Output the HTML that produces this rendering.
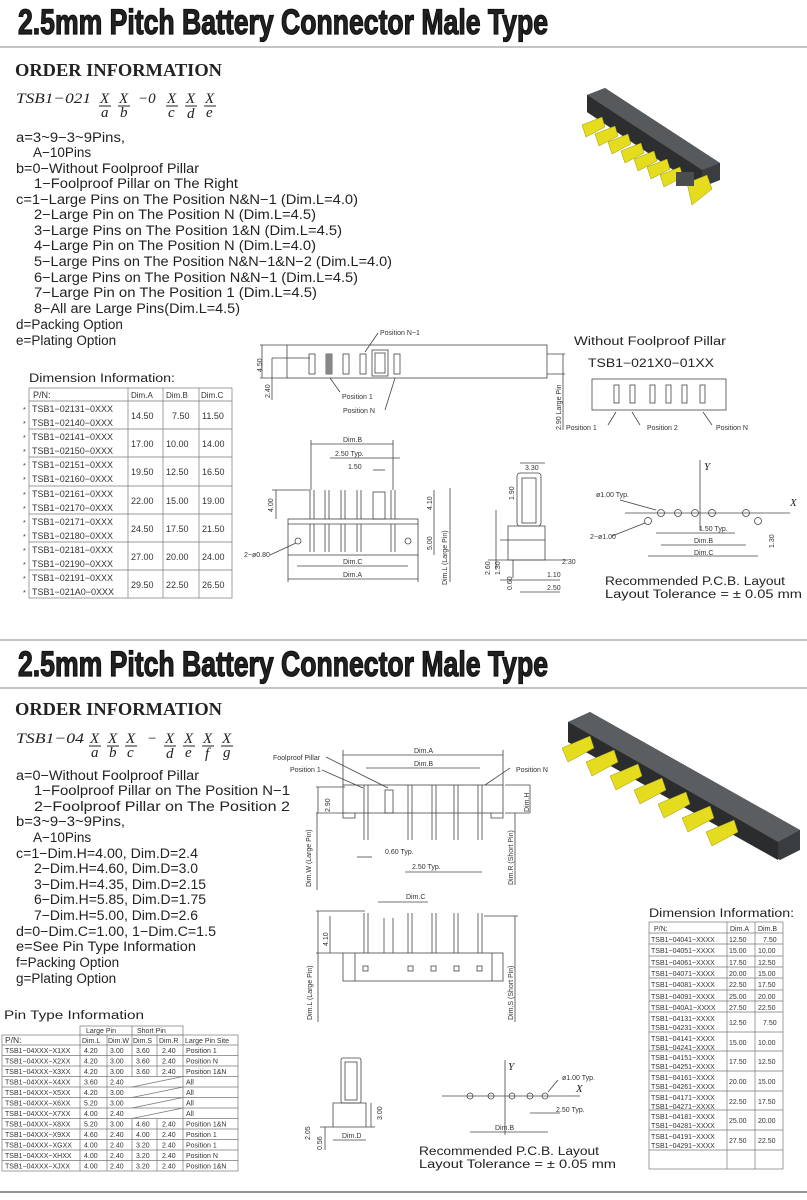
<!DOCTYPE html>
<html><head><meta charset="utf-8"><style>
html,body{margin:0;padding:0;background:#fff}
svg{display:block}
.t{font-family:"Liberation Sans",sans-serif;fill:#222}
.s{font-family:"Liberation Sans",sans-serif;fill:#333;font-size:7px}
.m{font-family:"Liberation Sans",sans-serif;fill:#222;font-size:13.5px}
.tb{font-family:"Liberation Sans",sans-serif;fill:#333;font-size:9px}
.ln{stroke:#444;stroke-width:.8;fill:none}
.tl{stroke:#777;stroke-width:.7;fill:none}
</style></head><body>
<svg width="807" height="1200" viewBox="0 0 807 1200" xmlns="http://www.w3.org/2000/svg">
<!-- Titles -->
<text x="18" y="34" class="t" font-size="35" font-weight="bold" textLength="530" lengthAdjust="spacingAndGlyphs" fill="#111" stroke="#111" stroke-width="1.3">2.5mm Pitch Battery Connector Male Type</text>
<line x1="0" y1="47" x2="807" y2="47" stroke="#888" stroke-width="1"/>
<line x1="0" y1="640" x2="807" y2="640" stroke="#888" stroke-width="1"/>
<text x="18" y="676" class="t" font-size="35" font-weight="bold" textLength="530" lengthAdjust="spacingAndGlyphs" fill="#111" stroke="#111" stroke-width="1.3">2.5mm Pitch Battery Connector Male Type</text>
<line x1="0" y1="688" x2="807" y2="688" stroke="#888" stroke-width="1"/>
<line x1="0" y1="1192" x2="807" y2="1192" stroke="#555" stroke-width="1.2"/>

<!-- Top order info -->
<text x="15" y="76" font-family="Liberation Serif,serif" font-weight="bold" font-size="18" textLength="207" lengthAdjust="spacingAndGlyphs" fill="#222">ORDER INFORMATION</text>
<g font-family="Liberation Serif,serif" font-style="italic" font-size="15" fill="#222">
<text x="16" y="103" textLength="75" lengthAdjust="spacingAndGlyphs">TSB1−021</text>
<text x="100" y="103">X</text><text x="119" y="103">X</text><text x="138" y="103">−0</text>
<text x="167" y="103">X</text><text x="186" y="103">X</text><text x="205" y="103">X</text>
<text x="101" y="117">a</text><text x="120" y="117">b</text><text x="168" y="117">c</text><text x="187" y="118">d</text><text x="206" y="117">e</text>
</g>
<g stroke="#222" stroke-width="1"><line x1="99" y1="106" x2="111" y2="106"/><line x1="118" y1="106" x2="130" y2="106"/><line x1="166" y1="106" x2="178" y2="106"/><line x1="185" y1="106" x2="197" y2="106"/><line x1="204" y1="106" x2="216" y2="106"/></g>
<g class="m">
<text x="16" y="142" textLength="109" lengthAdjust="spacingAndGlyphs">a=3~9−3~9Pins,</text>
<text x="33" y="157">A−10Pins</text>
<text x="16" y="173" textLength="183" lengthAdjust="spacingAndGlyphs">b=0−Without Foolproof Pillar</text>
<text x="34" y="188" textLength="204" lengthAdjust="spacingAndGlyphs">1−Foolproof Pillar on The Right</text>
<text x="16" y="204" textLength="342" lengthAdjust="spacingAndGlyphs">c=1−Large Pins on The Position N&amp;N−1 (Dim.L=4.0)</text>
<text x="34" y="219" textLength="282" lengthAdjust="spacingAndGlyphs">2−Large Pin on The Position N (Dim.L=4.5)</text>
<text x="34" y="235" textLength="308" lengthAdjust="spacingAndGlyphs">3−Large Pins on The Position 1&amp;N (Dim.L=4.5)</text>
<text x="34" y="250" textLength="282" lengthAdjust="spacingAndGlyphs">4−Large Pin on The Position N (Dim.L=4.0)</text>
<text x="34" y="266" textLength="358" lengthAdjust="spacingAndGlyphs">5−Large Pins on The Position N&amp;N−1&amp;N−2 (Dim.L=4.0)</text>
<text x="34" y="282" textLength="324" lengthAdjust="spacingAndGlyphs">6−Large Pins on The Position N&amp;N−1 (Dim.L=4.5)</text>
<text x="34" y="297" textLength="283" lengthAdjust="spacingAndGlyphs">7−Large Pin on The Position 1 (Dim.L=4.5)</text>
<text x="34" y="313" textLength="206" lengthAdjust="spacingAndGlyphs">8−All are Large Pins(Dim.L=4.5)</text>
<text x="16" y="329">d=Packing Option</text>
<text x="16" y="345">e=Plating Option</text>
</g>

<!-- Top product image -->
<g>
<polygon points="587,95 605,88 720,163 720,180 700,188 587,112" fill="#3a3d3f"/>
<polygon points="587,95 605,88 720,163 702,170" fill="#565a5c"/>
<polygon points="587,95 702,170 702,188 587,112" fill="#2c2e30"/>
<g fill="#e6dc1e" stroke="#9a9410" stroke-width=".5">
<polygon points="582,125 602,117 605,127 586,137"/>
<polygon points="595,134 615,126 618,136 599,146"/>
<polygon points="608,142 628,134 631,144 612,154"/>
<polygon points="621,151 641,143 644,153 625,163"/>
<polygon points="634,159 654,151 657,161 638,171"/>
<polygon points="647,167 667,159 670,169 651,179"/>
<polygon points="660,175 680,167 683,177 664,187"/>
<polygon points="687,183 707,175 712,189 692,205"/>
</g>
<rect x="676" y="172" width="18" height="14" fill="#4a4d4f"/>
</g>

<!-- Top front view small -->
<g class="ln">
<rect x="287" y="345" width="260" height="33"/>
<line x1="260" y1="345" x2="287" y2="345"/><line x1="260" y1="378" x2="287" y2="378"/>
<line x1="262" y1="345" x2="262" y2="378"/><line x1="272" y1="358" x2="272" y2="400"/>
<line x1="272" y1="358" x2="310" y2="358"/>
<rect x="309" y="354" width="6" height="20"/><rect x="326" y="354" width="6" height="20"/>
<rect x="343" y="354" width="6" height="20"/><rect x="360" y="354" width="6" height="20"/>
<rect x="372" y="350" width="16" height="26"/><rect x="375" y="353" width="10" height="20"/>
<rect x="394" y="354" width="6" height="20"/>
<line x1="547" y1="354" x2="565" y2="354"/><line x1="547" y1="374" x2="565" y2="374"/>
<line x1="563" y1="354" x2="563" y2="430"/>
<path d="M330 378 L340 392 M395 378 L385 410 M365 352 L378 333"/>
</g>
<rect x="326" y="354" width="6" height="20" fill="#888"/>
<g class="s">
<text x="380" y="335">Position N−1</text>
<text x="342" y="399">Position 1</text>
<text x="343" y="413">Position N</text>
<text transform="translate(262,372) rotate(-90)">4.50</text>
<text transform="translate(270,398) rotate(-90)">2.40</text>
<text transform="translate(561,430) rotate(-90)">2.90 Large Pin</text>
</g>

<!-- Top main side view -->
<g class="ln">
<rect x="288" y="519" width="130" height="36"/><line x1="288" y1="524" x2="418" y2="524"/>
<path d="M310 519 V490 M314 519 V490 M325 519 V490 M329 519 V490 M341 519 V490 M345 519 V490 M357 519 V490 M361 519 V490 M391 519 V490 M395 519 V490"/>
<rect x="373" y="492" width="12" height="27"/>
<path d="M310 524 V552 M314 524 V552 M325 524 V552 M329 524 V552 M341 524 V552 M345 524 V552 M357 524 V552 M361 524 V552 M391 524 V552 M395 524 V552"/>
<circle cx="298" cy="541" r="3"/><circle cx="408" cy="541" r="3"/>
<line x1="311" y1="444" x2="393" y2="444"/><line x1="311" y1="440" x2="311" y2="490"/><line x1="393" y1="440" x2="393" y2="490"/>
<line x1="330" y1="458" x2="400" y2="458"/><line x1="373" y1="470" x2="385" y2="470"/>
<line x1="297" y1="566" x2="408" y2="566"/><line x1="288" y1="579" x2="418" y2="579"/>
<line x1="288" y1="555" x2="288" y2="582"/><line x1="418" y1="555" x2="418" y2="582"/>
<line x1="272" y1="490" x2="310" y2="490"/><line x1="276" y1="490" x2="276" y2="519"/>
<line x1="434" y1="490" x2="434" y2="555"/><line x1="450" y1="488" x2="450" y2="582"/>
<path d="M270 555 L296 543"/>
</g>
<g class="s">
<text x="343" y="442">Dim.B</text><text x="335" y="456">2.50 Typ.</text><text x="348" y="469">1.50</text>
<text x="343" y="564">Dim.C</text><text x="343" y="577">Dim.A</text>
<text x="244" y="557">2−ø0.80</text>
<text transform="translate(273,512) rotate(-90)">4.00</text>
<text transform="translate(432,510) rotate(-90)">4.10</text>
<text transform="translate(432,550) rotate(-90)">5.00</text>
<text transform="translate(447,585) rotate(-90)">Dim.L (Large Pin)</text>
</g>

<!-- Top right side view -->
<g class="ln">
<rect x="517" y="473" width="24" height="53" rx="3"/><rect x="522" y="478" width="14" height="45"/>
<path d="M508 526 H545 V560 H508 Z M500 540 H545 M513 560 V578"/>
<line x1="520" y1="463" x2="545" y2="463"/>
<line x1="488" y1="560" x2="568" y2="560"/><line x1="500" y1="580" x2="560" y2="580"/><line x1="520" y1="592" x2="560" y2="592"/>
<line x1="496" y1="510" x2="496" y2="570"/>
</g>
<g class="s">
<text x="525" y="470">3.30</text><text x="562" y="564">2.30</text><text x="547" y="577">1.10</text><text x="547" y="590">2.50</text>
<text transform="translate(514,500) rotate(-90)">1.90</text>
<text transform="translate(490,575) rotate(-90)">2.60</text>
<text transform="translate(500,575) rotate(-90)">1.30</text>
<text transform="translate(512,590) rotate(-90)">0.60</text>
</g>

<!-- Without foolproof -->
<text x="574" y="345" class="t" font-size="11.5" textLength="152" lengthAdjust="spacingAndGlyphs" fill="#444">Without Foolproof Pillar</text>
<text x="588" y="367" class="t" font-size="11.5" textLength="126" lengthAdjust="spacingAndGlyphs" fill="#444">TSB1−021X0−01XX</text>
<g class="ln">
<rect x="592" y="379" width="134" height="31"/>
<rect x="614" y="385" width="5" height="18"/><rect x="630" y="385" width="5" height="18"/><rect x="650" y="385" width="5" height="18"/><rect x="666" y="385" width="5" height="18"/><rect x="682" y="385" width="5" height="18"/><rect x="700" y="385" width="5" height="18"/>
<path d="M616 412 L608 425 M632 412 L640 425 M703 412 L712 425"/>
</g>
<g class="s"><text x="566" y="430">Position 1</text><text x="647" y="430">Position 2</text><text x="716" y="430">Position N</text></g>

<!-- Top PCB layout -->
<g class="ln">
<line x1="700" y1="460" x2="700" y2="530"/><line x1="625" y1="513" x2="790" y2="513"/>
<circle cx="661" cy="513" r="3.5"/><circle cx="678" cy="513" r="3.5"/><circle cx="695" cy="513" r="3.5"/><circle cx="712" cy="513" r="3.5"/><circle cx="746" cy="513" r="3.5"/>
<circle cx="648" cy="521" r="3.5"/><circle cx="758" cy="521" r="3.5"/>
<line x1="656" y1="533" x2="735" y2="533"/><line x1="661" y1="545" x2="746" y2="545"/><line x1="648" y1="556" x2="758" y2="556"/>
<path d="M620 500 L656 510 M612 536 L645 523"/>
</g>
<g class="s"><text x="596" y="497">ø1.00 Typ.</text><text x="590" y="539">2−ø1.00</text><text x="699" y="531">1.50 Typ.</text><text x="694" y="543">Dim.B</text><text x="694" y="555">Dim.C</text>
<text transform="translate(774,548) rotate(-90)">1.30</text></g>
<text x="704" y="470" font-family="Liberation Serif,serif" font-style="italic" font-size="11" fill="#222">Y</text>
<text x="790" y="506" font-family="Liberation Serif,serif" font-style="italic" font-size="11" fill="#222">X</text>
<text x="605" y="585" class="t" font-size="11.5" textLength="180" lengthAdjust="spacingAndGlyphs" fill="#333">Recommended  P.C.B.  Layout</text>
<text x="605" y="598" class="t" font-size="11.5" textLength="197" lengthAdjust="spacingAndGlyphs" fill="#333">Layout Tolerance = ± 0.05 mm</text>

<!-- Top dim table -->
<text x="29" y="382" class="t" font-size="11.5" textLength="146" lengthAdjust="spacingAndGlyphs" fill="#444">Dimension Information:</text>
<g class="tl">
<rect x="29" y="388" width="203" height="210"/>
<line x1="128" y1="388" x2="128" y2="598"/><line x1="163" y1="388" x2="163" y2="598"/><line x1="199" y1="388" x2="199" y2="598"/>
<line x1="29" y1="401" x2="232" y2="401"/>
<line x1="29" y1="429" x2="232" y2="429"/><line x1="29" y1="457" x2="232" y2="457"/><line x1="29" y1="486" x2="232" y2="486"/><line x1="29" y1="514" x2="232" y2="514"/><line x1="29" y1="542" x2="232" y2="542"/><line x1="29" y1="570" x2="232" y2="570"/>
</g>
<g class="tb">
<text x="33" y="398">P/N:</text><text x="131" y="398" font-size="8">Dim.A</text><text x="166" y="398" font-size="8">Dim.B</text><text x="201" y="398" font-size="8">Dim.C</text>
<text x="32" y="412">TSB1−02131−0XXX</text><text x="32" y="426">TSB1−02140−0XXX</text>
<text x="32" y="440">TSB1−02141−0XXX</text><text x="32" y="454">TSB1−02150−0XXX</text>
<text x="32" y="468">TSB1−02151−0XXX</text><text x="32" y="482">TSB1−02160−0XXX</text>
<text x="32" y="497">TSB1−02161−0XXX</text><text x="32" y="511">TSB1−02170−0XXX</text>
<text x="32" y="525">TSB1−02171−0XXX</text><text x="32" y="539">TSB1−02180−0XXX</text>
<text x="32" y="553">TSB1−02181−0XXX</text><text x="32" y="567">TSB1−02190−0XXX</text>
<text x="32" y="581">TSB1−02191−0XXX</text><text x="32" y="595">TSB1−021A0−0XXX</text>
<text x="131" y="419">14.50</text><text x="172" y="419">7.50</text><text x="202" y="419">11.50</text>
<text x="131" y="447">17.00</text><text x="166" y="447">10.00</text><text x="202" y="447">14.00</text>
<text x="131" y="475">19.50</text><text x="166" y="475">12.50</text><text x="202" y="475">16.50</text>
<text x="131" y="504">22.00</text><text x="166" y="504">15.00</text><text x="202" y="504">19.00</text>
<text x="131" y="532">24.50</text><text x="166" y="532">17.50</text><text x="202" y="532">21.50</text>
<text x="131" y="560">27.00</text><text x="166" y="560">20.00</text><text x="202" y="560">24.00</text>
<text x="131" y="588">29.50</text><text x="166" y="588">22.50</text><text x="202" y="588">26.50</text>
</g>
<g class="s" font-size="8"><text x="23" y="412">*</text><text x="23" y="426">*</text><text x="23" y="440">*</text><text x="23" y="454">*</text><text x="23" y="468">*</text><text x="23" y="482">*</text><text x="23" y="497">*</text><text x="23" y="511">*</text><text x="23" y="525">*</text><text x="23" y="539">*</text><text x="23" y="553">*</text><text x="23" y="567">*</text><text x="23" y="581">*</text><text x="23" y="595">*</text></g>

<!-- Bottom order info -->
<text x="15" y="715" font-family="Liberation Serif,serif" font-weight="bold" font-size="18" textLength="207" lengthAdjust="spacingAndGlyphs" fill="#222">ORDER INFORMATION</text>
<g font-family="Liberation Serif,serif" font-style="italic" font-size="15" fill="#222">
<text x="16" y="743" textLength="68" lengthAdjust="spacingAndGlyphs">TSB1−04</text>
<text x="90" y="743">X</text><text x="108" y="743">X</text><text x="126" y="743">X</text><text x="147" y="743">−</text>
<text x="165" y="743">X</text><text x="184" y="743">X</text><text x="203" y="743">X</text><text x="222" y="743">X</text>
<text x="91" y="757">a</text><text x="109" y="757">b</text><text x="127" y="757">c</text><text x="166" y="758">d</text><text x="185" y="757">e</text><text x="205" y="758">f</text><text x="223" y="757">g</text>
</g>
<g stroke="#222" stroke-width="1"><line x1="89" y1="746" x2="101" y2="746"/><line x1="107" y1="746" x2="119" y2="746"/><line x1="125" y1="746" x2="137" y2="746"/><line x1="164" y1="746" x2="176" y2="746"/><line x1="183" y1="746" x2="195" y2="746"/><line x1="202" y1="746" x2="214" y2="746"/><line x1="221" y1="746" x2="233" y2="746"/></g>
<g class="m">
<text x="16" y="780" textLength="183" lengthAdjust="spacingAndGlyphs">a=0−Without Foolproof Pillar</text>
<text x="34" y="795" textLength="256" lengthAdjust="spacingAndGlyphs">1−Foolproof Pillar on The Position N−1</text>
<text x="34" y="811" textLength="256" lengthAdjust="spacingAndGlyphs">2−Foolproof Pillar on The Position 2</text>
<text x="16" y="826" textLength="109" lengthAdjust="spacingAndGlyphs">b=3~9−3~9Pins,</text>
<text x="33" y="842">A−10Pins</text>
<text x="16" y="858" textLength="182" lengthAdjust="spacingAndGlyphs">c=1−Dim.H=4.00, Dim.D=2.4</text>
<text x="34" y="873" textLength="164" lengthAdjust="spacingAndGlyphs">2−Dim.H=4.60, Dim.D=3.0</text>
<text x="34" y="889" textLength="172" lengthAdjust="spacingAndGlyphs">3−Dim.H=4.35, Dim.D=2.15</text>
<text x="34" y="904" textLength="172" lengthAdjust="spacingAndGlyphs">6−Dim.H=5.85, Dim.D=1.75</text>
<text x="34" y="920" textLength="164" lengthAdjust="spacingAndGlyphs">7−Dim.H=5.00, Dim.D=2.6</text>
<text x="16" y="936" textLength="200" lengthAdjust="spacingAndGlyphs">d=0−Dim.C=1.00, 1−Dim.C=1.5</text>
<text x="16" y="951" textLength="180" lengthAdjust="spacingAndGlyphs">e=See Pin Type Information</text>
<text x="16" y="967">f=Packing Option</text>
<text x="16" y="983">g=Plating Option</text>
</g>

<!-- Bottom product image -->
<g>
<polygon points="568,722 590,712 800,830 800,850 780,860 568,742" fill="#3a3d3f"/>
<polygon points="568,722 590,712 800,830 778,842" fill="#5a5e60"/>
<polygon points="568,722 778,842 778,860 568,742" fill="#2a2c2e"/>
<g fill="#e6dc1e" stroke="#9a9410" stroke-width=".5">
<polygon points="562,748 590,736 594,748 568,762"/>
<polygon points="586,762 614,750 618,762 592,776"/>
<polygon points="610,776 638,764 642,776 616,790"/>
<polygon points="634,790 662,778 666,790 640,804"/>
<polygon points="658,804 686,792 690,804 664,818"/>
<polygon points="682,818 710,806 714,818 688,832"/>
<polygon points="706,832 734,820 738,832 712,846"/>
</g>
</g>

<!-- Bottom top view -->
<g class="ln">
<rect x="343" y="785" width="160" height="28"/>
<path d="M343 813 V818 H355 V813 M491 813 V818 H503 V813"/>
<path d="M364 785 V840 M368 785 V840 M408 785 V840 M412 785 V840 M432 785 V840 M436 785 V840 M454 785 V840 M458 785 V840 M478 785 V840 M482 785 V840"/>
<rect x="385" y="790" width="8" height="23"/>
<line x1="343" y1="755" x2="503" y2="755"/><line x1="366" y1="768" x2="480" y2="768"/>
<line x1="343" y1="750" x2="343" y2="785"/><line x1="503" y1="750" x2="503" y2="785"/>
<line x1="316" y1="787" x2="345" y2="787"/><line x1="316" y1="813" x2="345" y2="813"/>
<line x1="318" y1="787" x2="318" y2="813"/><line x1="317" y1="813" x2="317" y2="890"/>
<line x1="530" y1="785" x2="530" y2="813"/><line x1="505" y1="813" x2="530" y2="813"/><line x1="505" y1="785" x2="530" y2="785"/>
<line x1="515" y1="813" x2="515" y2="885"/>
<line x1="357" y1="857" x2="372" y2="857"/><line x1="405" y1="872" x2="482" y2="872"/>
<path d="M326 757 L388 788 M322 770 L363 788 M510 768 L485 785"/>
</g>
<g class="s">
<text x="273" y="760">Foolproof Pillar</text><text x="290" y="772">Position 1</text><text x="516" y="772">Position N</text>
<text x="414" y="753">Dim.A</text><text x="414" y="766">Dim.B</text>
<text x="385" y="854">0.60 Typ.</text><text x="412" y="869">2.50 Typ.</text>
<text transform="translate(330,812) rotate(-90)">2.90</text>
<text transform="translate(529,812) rotate(-90)">Dim.H</text>
<text transform="translate(311,887) rotate(-90)">Dim.W (Large Pin)</text>
<text transform="translate(513,885) rotate(-90)">Dim.R (Short Pin)</text>
</g>

<!-- Bottom side view -->
<g class="ln">
<rect x="343" y="953" width="160" height="28"/>
<line x1="355" y1="953" x2="355" y2="981"/><line x1="492" y1="953" x2="492" y2="981"/>
<path d="M364 953 V913 M368 953 V913 M408 953 V913 M412 953 V913 M432 953 V913 M436 953 V913 M454 953 V913 M458 953 V913 M478 953 V913 M482 953 V913"/>
<path d="M384 953 V918 M393 953 V918"/>
<rect x="363" y="966" width="5" height="5"/><rect x="408" y="966" width="5" height="5"/><rect x="431" y="966" width="5" height="5"/><rect x="454" y="966" width="5" height="5"/><rect x="477" y="966" width="5" height="5"/>
<line x1="316" y1="911" x2="365" y2="911"/><line x1="316" y1="953" x2="343" y2="953"/>
<line x1="318" y1="911" x2="318" y2="1022"/><line x1="330" y1="916" x2="330" y2="953"/>
<line x1="484" y1="916" x2="518" y2="916"/><line x1="515" y1="916" x2="515" y2="1022"/>
<line x1="378" y1="902" x2="428" y2="902"/>
</g>
<g class="s">
<text x="406" y="899">Dim.C</text>
<text transform="translate(328,946) rotate(-90)">4.10</text>
<text transform="translate(312,1020) rotate(-90)">Dim.L (Large Pin)</text>
<text transform="translate(513,1020) rotate(-90)">Dim.S (Short Pin)</text>
</g>

<!-- Bottom small side view -->
<g class="ln">
<rect x="341" y="1058" width="20" height="45" rx="2"/><rect x="345" y="1062" width="12" height="38"/>
<path d="M333 1103 H366 V1127 H333 Z M320 1127 H375"/>
<line x1="325" y1="1127" x2="325" y2="1150"/><line x1="371" y1="1103" x2="371" y2="1127"/>
<line x1="333" y1="1140" x2="366" y2="1140"/>
</g>
<g class="s"><text x="342" y="1138">Dim.D</text>
<text transform="translate(310,1140) rotate(-90)">2.05</text>
<text transform="translate(322,1150) rotate(-90)">0.56</text>
<text transform="translate(382,1120) rotate(-90)">3.00</text></g>

<!-- Bottom PCB -->
<g class="ln">
<line x1="505" y1="1060" x2="505" y2="1135"/><line x1="442" y1="1096" x2="580" y2="1096"/>
<circle cx="470" cy="1096" r="3"/><circle cx="491" cy="1096" r="3"/><circle cx="512" cy="1096" r="3"/><circle cx="530" cy="1096" r="3"/><circle cx="545" cy="1096" r="3"/>
<line x1="470" y1="1132" x2="548" y2="1132"/><line x1="530" y1="1113" x2="560" y2="1113"/>
<path d="M558 1080 L548 1092"/>
</g>
<g class="s"><text x="562" y="1080">ø1.00 Typ.</text><text x="556" y="1112">2.50 Typ.</text><text x="495" y="1130">Dim.B</text></g>
<text x="508" y="1070" font-family="Liberation Serif,serif" font-style="italic" font-size="11" fill="#222">Y</text>
<text x="576" y="1092" font-family="Liberation Serif,serif" font-style="italic" font-size="11" fill="#222">X</text>
<text x="419" y="1155" class="t" font-size="11.5" textLength="180" lengthAdjust="spacingAndGlyphs" fill="#333">Recommended  P.C.B.  Layout</text>
<text x="419" y="1168" class="t" font-size="11.5" textLength="197" lengthAdjust="spacingAndGlyphs" fill="#333">Layout Tolerance = ± 0.05 mm</text>

<!-- Pin type table: 12 rows of 10.5 from 1045 -->
<text x="4" y="1019" class="t" font-size="11.5" textLength="140" lengthAdjust="spacingAndGlyphs" fill="#444">Pin Type Information</text>
<g class="tl">
<rect x="80" y="1026" width="103" height="9"/><line x1="132" y1="1026" x2="132" y2="1035"/>
<rect x="2" y="1035" width="236" height="136"/>
<line x1="80" y1="1035" x2="80" y2="1171"/><line x1="107" y1="1035" x2="107" y2="1171"/>
<line x1="132" y1="1035" x2="132" y2="1076.5"/><line x1="157" y1="1035" x2="157" y2="1076.5"/>
<line x1="132" y1="1118.5" x2="132" y2="1171"/><line x1="157" y1="1118.5" x2="157" y2="1171"/>
<line x1="183" y1="1035" x2="183" y2="1171"/>
<line x1="2" y1="1045" x2="238" y2="1045"/><line x1="2" y1="1055.5" x2="238" y2="1055.5"/><line x1="2" y1="1066" x2="238" y2="1066"/><line x1="2" y1="1076.5" x2="238" y2="1076.5"/><line x1="2" y1="1087" x2="238" y2="1087"/><line x1="2" y1="1097.5" x2="238" y2="1097.5"/><line x1="2" y1="1108" x2="238" y2="1108"/><line x1="2" y1="1118.5" x2="238" y2="1118.5"/><line x1="2" y1="1129" x2="238" y2="1129"/><line x1="2" y1="1139.5" x2="238" y2="1139.5"/><line x1="2" y1="1150" x2="238" y2="1150"/><line x1="2" y1="1160.5" x2="238" y2="1160.5"/>
<path d="M132 1087 L183 1076.5 M132 1097.5 L183 1087 M132 1108 L183 1097.5 M132 1118.5 L183 1108"/>
</g>
<g class="s">
<text x="86" y="1033">Large Pin</text><text x="137" y="1033">Short Pin</text>
<text x="5" y="1043" font-size="8.5">P/N:</text><text x="82" y="1043">Dim.L</text><text x="108" y="1043">Dim.W</text><text x="133" y="1043">Dim.S</text><text x="159" y="1043">Dim.R</text><text x="185" y="1043">Large Pin Site</text>
</g>
<g class="s" font-size="7">
<text x="5" y="1053">TSB1−04XXX−X1XX</text><text x="84" y="1053">4.20</text><text x="110" y="1053">3.00</text><text x="136" y="1053">3.60</text><text x="162" y="1053">2.40</text><text x="186" y="1053">Position 1</text>
<text x="5" y="1063.5">TSB1−04XXX−X2XX</text><text x="84" y="1063.5">4.20</text><text x="110" y="1063.5">3.00</text><text x="136" y="1063.5">3.60</text><text x="162" y="1063.5">2.40</text><text x="186" y="1063.5">Position N</text>
<text x="5" y="1074">TSB1−04XXX−X3XX</text><text x="84" y="1074">4.20</text><text x="110" y="1074">3.00</text><text x="136" y="1074">3.60</text><text x="162" y="1074">2.40</text><text x="186" y="1074">Position 1&amp;N</text>
<text x="5" y="1084.5">TSB1−04XXX−X4XX</text><text x="84" y="1084.5">3.60</text><text x="110" y="1084.5">2.40</text><text x="186" y="1084.5">All</text>
<text x="5" y="1095">TSB1−04XXX−X5XX</text><text x="84" y="1095">4.20</text><text x="110" y="1095">3.00</text><text x="186" y="1095">All</text>
<text x="5" y="1105.5">TSB1−04XXX−X6XX</text><text x="84" y="1105.5">5.20</text><text x="110" y="1105.5">3.00</text><text x="186" y="1105.5">All</text>
<text x="5" y="1116">TSB1−04XXX−X7XX</text><text x="84" y="1116">4.00</text><text x="110" y="1116">2.40</text><text x="186" y="1116">All</text>
<text x="5" y="1126.5">TSB1−04XXX−X8XX</text><text x="84" y="1126.5">5.20</text><text x="110" y="1126.5">3.00</text><text x="136" y="1126.5">4.60</text><text x="162" y="1126.5">2.40</text><text x="186" y="1126.5">Position 1&amp;N</text>
<text x="5" y="1137">TSB1−04XXX−X9XX</text><text x="84" y="1137">4.60</text><text x="110" y="1137">2.40</text><text x="136" y="1137">4.00</text><text x="162" y="1137">2.40</text><text x="186" y="1137">Position 1</text>
<text x="5" y="1147.5">TSB1−04XXX−XGXX</text><text x="84" y="1147.5">4.00</text><text x="110" y="1147.5">2.40</text><text x="136" y="1147.5">3.20</text><text x="162" y="1147.5">2.40</text><text x="186" y="1147.5">Position 1</text>
<text x="5" y="1158">TSB1−04XXX−XHXX</text><text x="84" y="1158">4.00</text><text x="110" y="1158">2.40</text><text x="136" y="1158">3.20</text><text x="162" y="1158">2.40</text><text x="186" y="1158">Position N</text>
<text x="5" y="1168.5">TSB1−04XXX−XJXX</text><text x="84" y="1168.5">4.00</text><text x="110" y="1168.5">2.40</text><text x="136" y="1168.5">3.20</text><text x="162" y="1168.5">2.40</text><text x="186" y="1168.5">Position 1&amp;N</text>
</g>

<!-- Bottom right dim table -->
<text x="649" y="917" class="t" font-size="11.5" textLength="145" lengthAdjust="spacingAndGlyphs" fill="#444">Dimension Information:</text>
<g class="tl">
<rect x="649" y="922" width="134" height="247"/>
<line x1="727" y1="922" x2="727" y2="1169"/><line x1="755" y1="922" x2="755" y2="1169"/>
<line x1="649" y1="933" x2="783" y2="933"/><line x1="649" y1="944" x2="783" y2="944"/><line x1="649" y1="956" x2="783" y2="956"/><line x1="649" y1="967" x2="783" y2="967"/><line x1="649" y1="978" x2="783" y2="978"/><line x1="649" y1="990" x2="783" y2="990"/><line x1="649" y1="1001" x2="783" y2="1001"/><line x1="649" y1="1012" x2="783" y2="1012"/>
<line x1="649" y1="1032" x2="783" y2="1032"/><line x1="649" y1="1051" x2="783" y2="1051"/><line x1="649" y1="1071" x2="783" y2="1071"/><line x1="649" y1="1091" x2="783" y2="1091"/><line x1="649" y1="1110" x2="783" y2="1110"/><line x1="649" y1="1130" x2="783" y2="1130"/><line x1="649" y1="1150" x2="783" y2="1150"/>
</g>
<g class="s" font-size="7">
<text x="654" y="931">P/N:</text><text x="730" y="931">Dim.A</text><text x="758" y="931">Dim.B</text>
<text x="651" y="942">TSB1−04041−XXXX</text><text x="729" y="942">12.50</text><text x="763" y="942">7.50</text>
<text x="651" y="953">TSB1−04051−XXXX</text><text x="729" y="953">15.00</text><text x="758" y="953">10.00</text>
<text x="651" y="965">TSB1−04061−XXXX</text><text x="729" y="965">17.50</text><text x="758" y="965">12.50</text>
<text x="651" y="976">TSB1−04071−XXXX</text><text x="729" y="976">20.00</text><text x="758" y="976">15.00</text>
<text x="651" y="987">TSB1−04081−XXXX</text><text x="729" y="987">22.50</text><text x="758" y="987">17.50</text>
<text x="651" y="999">TSB1−04091−XXXX</text><text x="729" y="999">25.00</text><text x="758" y="999">20.00</text>
<text x="651" y="1010">TSB1−040A1−XXXX</text><text x="729" y="1010">27.50</text><text x="758" y="1010">22.50</text>
<text x="651" y="1021">TSB1−04131−XXXX</text><text x="651" y="1030">TSB1−04231−XXXX</text><text x="729" y="1025">12.50</text><text x="763" y="1025">7.50</text>
<text x="651" y="1041">TSB1−04141−XXXX</text><text x="651" y="1050">TSB1−04241−XXXX</text><text x="729" y="1045">15.00</text><text x="758" y="1045">10.00</text>
<text x="651" y="1060">TSB1−04151−XXXX</text><text x="651" y="1069">TSB1−04251−XXXX</text><text x="729" y="1064">17.50</text><text x="758" y="1064">12.50</text>
<text x="651" y="1080">TSB1−04161−XXXX</text><text x="651" y="1089">TSB1−04261−XXXX</text><text x="729" y="1084">20.00</text><text x="758" y="1084">15.00</text>
<text x="651" y="1100">TSB1−04171−XXXX</text><text x="651" y="1109">TSB1−04271−XXXX</text><text x="729" y="1104">22.50</text><text x="758" y="1104">17.50</text>
<text x="651" y="1119">TSB1−04181−XXXX</text><text x="651" y="1128">TSB1−04281−XXXX</text><text x="729" y="1123">25.00</text><text x="758" y="1123">20.00</text>
<text x="651" y="1139">TSB1−04191−XXXX</text><text x="651" y="1148">TSB1−04291−XXXX</text><text x="729" y="1143">27.50</text><text x="758" y="1143">22.50</text>
</g>
</svg>
</body></html>
